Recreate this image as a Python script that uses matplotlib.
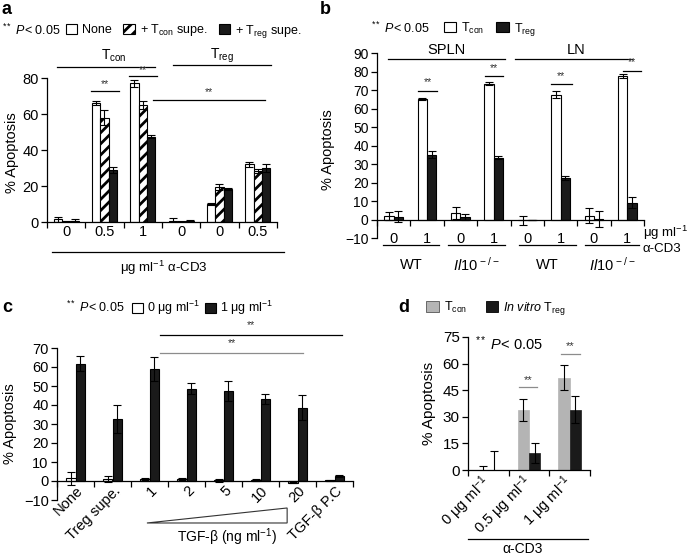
import numpy as np
import matplotlib
matplotlib.use("Agg")
import matplotlib.pyplot as plt
from matplotlib.patches import Patch, Polygon
from matplotlib.transforms import Affine2D, ScaledTranslation

plt.rcParams['font.family'] = ['Liberation Sans', 'DejaVu Sans']
plt.rcParams['font.size'] = 9
plt.rcParams['mathtext.fontset'] = 'custom'
plt.rcParams['mathtext.rm'] = 'Liberation Sans'
plt.rcParams['mathtext.it'] = 'Liberation Sans:italic'
plt.rcParams['mathtext.bf'] = 'Liberation Sans:bold'
plt.rcParams['hatch.linewidth'] = 2.0
plt.rcParams['axes.linewidth'] = 0.9

# -----------------------------
# Data
# -----------------------------
# panel a
a_labels = ["0", "0.5", "1", "0", "0", "0.5"]
a_none = [1.5, 66, 77, 0.8, 10, 32]
a_none_err = [1.5, 1, 2, 1.5, 0.5, 1.5]
a_tcon = [0.2, 58, 65, 0.2, 19.4, 28.5]
a_tcon_err = [0.3, 4, 2, 0.3, 1.5, 1]
a_treg = [0.8, 29, 47.5, 0.6, 18.3, 30]
a_treg_err = [0.6, 1.5, 1, 0.6, 0.5, 2]

# panel b
b_labels = ["0", "1", "0", "1", "0", "1", "0", "1"]
b_tcon = [2, 65, 3.5, 73.5, -0.5, 67.5, 2, 77.5]
b_tcon_err = [2, 0.5, 3, 1, 2.5, 2, 4, 1]
b_treg = [1.5, 35, 1.5, 33.5, 0, 22.5, 0.3, 9]
b_treg_err = [3, 2, 1.5, 1, 0, 1, 4.5, 3]

# panel c
c_labels = ["None", "Treg supe.", "1", "2", "5", "10", "20", "TGF-β P.C"]
c_zero = [1.5, 1, 1, 1, 0.3, 0.5, -0.8, 0.3]
c_zero_err = [3.5, 1.5, 0.5, 0.5, 1, 0.3, 0.3, 0.2]
c_one = [61.8, 32.8, 59, 48.6, 47.4, 43.3, 38.6, 2.5]
c_one_err = [4, 7.4, 6.2, 2.8, 5.2, 2.7, 6.7, 0.5]

# panel d
d_labels = [r"0 μg ml$^{-1}$", r"0.5 μg ml$^{-1}$", r"1 μg ml$^{-1}$"]
d_tcon = [0, 34, 52]
d_tcon_err = [2, 6.3, 7]
d_treg = [0, 9.7, 34]
d_treg_err = [10.7, 5.5, 7.7]

BLACK = '#1a1a1a'
GRAY = '#b4b4b4'
W, H = 692, 555

fig = plt.figure(figsize=(W / 100, H / 100), dpi=100)
px = Affine2D().scale(1 / W, -1 / H).translate(0, 1) + fig.transFigure


def add_ax(l, t, r, b):
    ax = fig.add_axes([l / W, 1 - b / H, (r - l) / W, (b - t) / H])
    ax.spines['top'].set_visible(False)
    ax.spines['right'].set_visible(False)
    ax.tick_params(axis='y', direction='out', length=4, width=0.9, pad=2)
    return ax


def group_ticks(ax, n, pad):
    ax.set_xticks(np.arange(n))
    ax.set_xticks(np.arange(n + 1) - 0.5, minor=True)
    ax.tick_params(axis='x', which='major', length=0, pad=pad)
    ax.tick_params(axis='x', which='minor', direction='out', length=4, width=0.9)


def sig(ax, x0, x1, y, dy, color='black', fs=7.5):
    ax.plot([x0, x1], [y, y], color=color, lw=0.9, clip_on=False)
    ax.text((x0 + x1) / 2, y + dy, '**', ha='center', va='center',
            fontsize=fs, color='#333333', clip_on=False)


def hline(ax, x0, x1, y, color='black'):
    ax.plot([x0, x1], [y, y], color=color, lw=0.9, clip_on=False)


ekw = dict(ecolor='black', elinewidth=0.8, capsize=2.8, capthick=0.8)

# -----------------------------
# Panel a
# -----------------------------
ax = add_ax(47, 78, 277, 222)
x = np.arange(len(a_labels))
w = 0.22
ax.bar(x - w, a_none, w, yerr=a_none_err, color='white', edgecolor='black', lw=0.8, error_kw=ekw)
ax.bar(x, a_tcon, w, yerr=a_tcon_err, color='white', edgecolor='black', lw=0.8, hatch='///', error_kw=ekw)
ax.bar(x + w, a_treg, w, yerr=a_treg_err, color=BLACK, edgecolor='black', lw=0.8, error_kw=ekw)
ax.set_xlim(-0.45, 5.45)
ax.set_ylim(0, 80)
ax.set_yticks([0, 20, 40, 60, 80])
group_ticks(ax, len(a_labels), 2.5)
ax.set_xticklabels(a_labels, fontsize=10.5)
ax.tick_params(axis='y', labelsize=10.5)
ax.set_ylabel('% Apoptosis', fontsize=10.5)
ax.yaxis.set_label_coords((19 - 47) / 230, 0.48)

sig(ax, 0.65, 1.37, 73, 3.5)
sig(ax, 1.65, 2.37, 81, 3.2)
sig(ax, 2.27, 5.19, 68, 4)
hline(ax, -0.24, 2.32, 86)
hline(ax, 2.78, 5.35, 87)
ax.text(1.24, 92.5, r'T$_{\rm con}$', ha='center', va='center', fontsize=10, clip_on=False)
ax.text(4.06, 92.5, r'T$_{\rm reg}$', ha='center', va='center', fontsize=10, clip_on=False)
hline(ax, -0.37, 5.68, -16.7)
ax.text(2.55, -25.5, r'μg ml$^{-1}$ α-CD3', ha='center', va='center', fontsize=9.5, clip_on=False)

fig.text(2, 10, 'a', transform=px, fontsize=13, fontweight='bold', va='center')
fig.text(2, 30, r'$^{**}$ $P$< 0.05', transform=px, fontsize=9, va='center')
ax.legend([Patch(facecolor='white', edgecolor='black', lw=0.8),
           Patch(facecolor='white', edgecolor='black', lw=0.8, hatch='///'),
           Patch(facecolor=BLACK, edgecolor='black', lw=0.8)],
          ['None', r'+ T$_{\rm con}$ supe.', r'+ T$_{\rm reg}$ supe.'],
          loc='center left', bbox_to_anchor=(66 / W, 1 - 31 / H), bbox_transform=fig.transFigure,
          ncol=3, frameon=False, handlelength=0.9, handleheight=0.8, handletextpad=0.4,
          columnspacing=0.9, borderpad=0, borderaxespad=0, fontsize=9)

# -----------------------------
# Panel b
# -----------------------------
ax = add_ax(377, 53, 644, 238)
x = np.arange(len(b_labels))
w = 0.28
ax.bar(x - w / 2, b_tcon, w, yerr=b_tcon_err, color='white', edgecolor='black', lw=0.8, error_kw=ekw)
ax.bar(x + w / 2, b_treg, w, yerr=b_treg_err, color=BLACK, edgecolor='black', lw=0.8, error_kw=ekw)
ax.set_xlim(-0.5, 7.5)
ax.set_ylim(-10, 90)
ax.set_yticks(np.arange(-10, 91, 10))
ax.spines['bottom'].set_position(('data', 0))
group_ticks(ax, len(b_labels), 9)
ax.set_xticklabels(b_labels, fontsize=10.5)
ax.tick_params(axis='y', labelsize=10)
ax.set_ylabel('% Apoptosis', fontsize=10.5)
ax.yaxis.set_label_coords((335 - 377) / 267, 0.48)

sig(ax, 0.73, 1.30, 69.7, 4.5)
sig(ax, 2.74, 3.27, 77.3, 4.5)
sig(ax, 4.71, 5.34, 73, 4.5)
sig(ax, 6.87, 7.41, 80.5, 4.5)
hline(ax, -0.17, 3.34, 86.5)
hline(ax, 3.64, 7.14, 86.5)
ax.text(1.57, 91.6, 'SPLN', ha='center', va='center', fontsize=10.5, clip_on=False)
ax.text(5.46, 91.6, 'LN', ha='center', va='center', fontsize=10.5, clip_on=False)
for x0, x1, lab in [(-0.32, 1.36, 'WT'), (1.63, 3.33, r'$\mathit{Il10}^{\,-/-}$'),
                    (3.75, 5.46, 'WT'), (5.73, 7.35, r'$\mathit{Il10}^{\,-/-}$')]:
    hline(ax, x0, x1, -13.8)
    ax.text((x0 + x1) / 2, -24.5, lab, ha='center', va='center', fontsize=10.5, clip_on=False)
ax.text(7.47, -7.0, r'μg ml$^{-1}$', ha='left', va='center', fontsize=9.5, clip_on=False)
ax.text(7.47, -15.8, 'α-CD3', ha='left', va='center', fontsize=9.5, clip_on=False)

fig.text(320, 10, 'b', transform=px, fontsize=13, fontweight='bold', va='center')
fig.text(371, 28, r'$^{**}$ $P$< 0.05', transform=px, fontsize=9, va='center')
ax.legend([Patch(facecolor='white', edgecolor='black', lw=0.8),
           Patch(facecolor=BLACK, edgecolor='black', lw=0.8)],
          [r'T$_{\rm con}$', r'T$_{\rm reg}$'],
          loc='center left', bbox_to_anchor=(444 / W, 1 - 29 / H), bbox_transform=fig.transFigure,
          ncol=2, frameon=False, handlelength=1.0, handleheight=0.9, handletextpad=0.4,
          columnspacing=0.9, borderpad=0, borderaxespad=0, fontsize=9)

# -----------------------------
# Panel c
# -----------------------------
ax = add_ax(57, 348, 353, 500)
x = np.arange(len(c_labels))
w = 0.27
ax.bar(x - w / 2, c_zero, w, yerr=c_zero_err, color='white', edgecolor='black', lw=0.8, error_kw=ekw)
ax.bar(x + w / 2, c_one, w, yerr=c_one_err, color=BLACK, edgecolor='black', lw=0.8, error_kw=ekw)
ax.set_xlim(-0.5, 7.5)
ax.set_ylim(-10, 70)
ax.set_yticks(np.arange(-10, 71, 10))
ax.spines['bottom'].set_position(('data', 0))
group_ticks(ax, len(c_labels), 5.5)
ax.set_xticklabels(c_labels, fontsize=10.5, rotation=45, ha='right', va='center',
                   rotation_mode='anchor')
for lab in ax.get_xticklabels():
    lab.set_transform(lab.get_transform() + ScaledTranslation(4 / 72, 0, fig.dpi_scale_trans))
ax.tick_params(axis='y', labelsize=10.5)
ax.set_ylabel('% Apoptosis', fontsize=10.5)
ax.yaxis.set_label_coords((17 - 57) / 296, 0.5)

sig(ax, 2.28, 7.2, 76.8, 5.3)
sig(ax, 2.28, 6.15, 67.4, 5, color='#8c8c8c')
ax.add_patch(Polygon([[1.93, -22.1], [5.72, -14.2], [5.72, -22.1]], closed=True,
                     facecolor='white', edgecolor='#333333', lw=0.8, clip_on=False))
ax.text(4.09, -29.5, r'TGF-β (ng ml$^{-1}$)', ha='center', va='center', fontsize=10, clip_on=False)

fig.text(2, 308, 'c', transform=px, fontsize=13, fontweight='bold', va='center')
fig.text(66, 307, r'$^{**}$ $P$< 0.05', transform=px, fontsize=9, va='center')
ax.legend([Patch(facecolor='white', edgecolor='black', lw=0.8),
           Patch(facecolor=BLACK, edgecolor='black', lw=0.8)],
          [r'0 μg ml$^{-1}$', r'1 μg ml$^{-1}$'],
          loc='center left', bbox_to_anchor=(132 / W, 1 - 308 / H), bbox_transform=fig.transFigure,
          ncol=2, frameon=False, handlelength=0.9, handleheight=0.9, handletextpad=0.3,
          columnspacing=0.4, borderpad=0, borderaxespad=0, fontsize=9)

# -----------------------------
# Panel d
# -----------------------------
ax = add_ax(468, 337, 590, 470)
x = np.arange(len(d_labels))
w = 0.28
ax.bar(x - w / 2, d_tcon, w, yerr=d_tcon_err, color=GRAY, edgecolor=GRAY, lw=0.5, error_kw=ekw)
ax.bar(x + w / 2, d_treg, w, yerr=d_treg_err, color=BLACK, edgecolor=BLACK, lw=0.5, error_kw=ekw)
ax.set_xlim(-0.5, 2.5)
ax.set_ylim(0, 75)
ax.set_yticks([0, 15, 30, 45, 60, 75])
group_ticks(ax, len(d_labels), 7)
ax.set_xticklabels(d_labels, fontsize=10.5, rotation=45, ha='right', va='center',
                   rotation_mode='anchor')
ax.tick_params(axis='y', labelsize=11)
ax.set_ylabel('% Apoptosis', fontsize=11)
ax.yaxis.set_label_coords((436 - 468) / 122, 0.5)

sig(ax, 0.75, 1.2, 46.8, 4, color='#8c8c8c', fs=8)
sig(ax, 1.79, 2.25, 65.4, 4.6, color='#8c8c8c', fs=8)
ax.text(-0.33, 71.5, r'$^{**}$ $P$< 0.05', ha='left', va='center', fontsize=10.5, clip_on=False)
hline(ax, -0.5, 2.45, -38.9)
ax.text(0.85, -44.5, 'α-CD3', ha='center', va='center', fontsize=10, clip_on=False)

fig.text(398, 307, 'd', transform=px, fontsize=13, fontweight='bold', va='center')
ax.legend([Patch(facecolor=GRAY, edgecolor='#555555', lw=0.6),
           Patch(facecolor=BLACK, edgecolor='black', lw=0.6)],
          [r'T$_{\rm con}$', r'$\mathit{In\ vitro}$ T$_{\rm reg}$'],
          loc='center left', bbox_to_anchor=(426 / W, 1 - 308 / H), bbox_transform=fig.transFigure,
          ncol=2, frameon=False, handlelength=1.0, handleheight=1.0, handletextpad=0.4,
          columnspacing=1.5, borderpad=0, borderaxespad=0, fontsize=9)

fig.savefig('out.png', dpi=100)
